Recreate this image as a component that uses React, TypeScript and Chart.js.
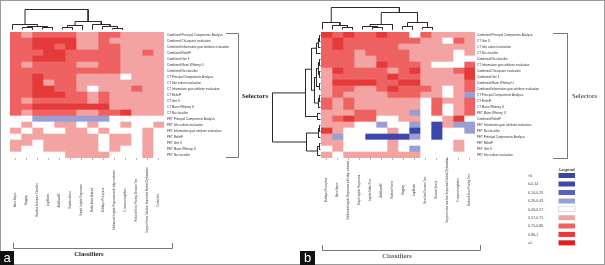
import React, { useEffect, useRef } from 'react';
import { Chart, registerables } from 'chart.js';

Chart.register(...registerables);

// ---------------- legend ----------------
const legendLabels = ['<0', '0-0.14', '0.14-0.29', '0.29-0.43', '0.43-0.57', '0.57-0.71', '0.71-0.86', '0.86-1', '=1'];
const legendColors = ['#3a45a6', '#3d47aa', '#5a62b8', '#9a9fd3', '#ffffff', '#f4a3a3', '#ee6262', '#e53a3a', '#e21f1f'];
const binUpper = [0, 0.14, 0.29, 0.43, 0.57, 0.71, 0.86, 1];

// ---------------- panel a ----------------
const aRows = [
  'Combined Principal Components Analysis',
  'Combined Chi-square evaluation',
  'Combined Information gain attribute evaluation',
  'Combined ReliefF',
  'Combined Gini II',
  'Combined Mann Whitney U',
  'Combined No classifier',
  'CT Principal Components Analysis',
  'CT Info subset evaluation',
  'CT Information gain attribute evaluation',
  'CT ReliefF',
  'CT Gini II',
  'CT Mann Whitney U',
  'CT No classifier',
  'PET Principal Components Analysis',
  'PET Info subset evaluation',
  'PET Information gain attribute evaluation',
  'PET ReliefF',
  'PET Gini II',
  'PET Mann Whitney U',
  'PET No classifier',
];

const aCols = [
  'Naive Bayes',
  'Bagging',
  'Random Subspace Classifier',
  'LogitBoost',
  'AdaBoostM1',
  'Random forest',
  'Simple Logistic Regression',
  'Radial Basis Network',
  'Multilayer Perceptron',
  'Multinomial Logistic Regression with ridge estimator',
  'K-nearest neighbors',
  'Reduced Error Pruning Decision Tree',
  'Support Vector Machine Sequential Minimal Optimization',
  'Credal tree',
];

const aValues = [
  [0.78, 0.65, 0.78, 0.78, 0.78, 0.78, 0.65, 0.65, 0.78, 0.78, 0.65, 0.65, 0.65, 0.65],
  [0.78, 0.78, 0.92, 0.92, 0.92, 0.92, 0.65, 0.65, 0.78, 0.65, 0.65, 0.65, 0.65, 0.65],
  [0.78, 0.78, 0.92, 0.92, 0.78, 0.92, 0.65, 0.65, 0.78, 0.78, 0.65, 0.65, 0.65, 0.65],
  [0.78, 0.78, 0.78, 0.92, 0.92, 0.78, 0.78, 0.78, 0.78, 0.78, 0.65, 0.65, 0.78, 0.65],
  [0.78, 0.78, 0.92, 0.92, 0.92, 0.78, 0.78, 0.78, 0.78, 0.78, 0.65, 0.65, 0.65, 0.65],
  [0.78, 0.65, 0.78, 0.78, 0.78, 0.78, 0.65, 0.65, 0.78, 0.78, 0.65, 0.65, 0.65, 0.65],
  [0.78, 0.78, 0.78, 0.78, 0.78, 0.78, 0.78, 0.78, 0.78, 0.78, 0.65, 0.65, 0.65, 0.65],
  [0.78, 0.78, 0.92, 0.78, 0.78, 0.78, 0.65, 0.65, 0.65, 0.65, 0.5, 0.65, 0.65, 0.65],
  [0.78, 0.78, 0.92, 0.65, 0.78, 0.78, 0.65, 0.65, 0.65, 0.65, 0.65, 0.65, 0.65, 0.65],
  [0.78, 0.78, 0.92, 0.92, 0.78, 0.78, 0.65, 0.5, 0.65, 0.65, 0.65, 0.78, 0.65, 0.65],
  [0.78, 0.78, 0.92, 0.92, 0.92, 0.78, 0.78, 0.65, 0.78, 0.65, 0.65, 0.65, 0.65, 0.65],
  [0.78, 0.65, 0.78, 0.78, 0.78, 0.78, 0.78, 0.65, 0.78, 0.65, 0.65, 0.65, 0.65, 0.65],
  [0.78, 0.78, 0.92, 0.92, 0.92, 0.92, 0.92, 0.92, 0.92, 0.65, 0.65, 0.65, 0.65, 0.65],
  [0.78, 0.65, 0.78, 0.78, 0.78, 0.78, 0.65, 0.65, 0.78, 0.78, 0.92, 0.65, 0.65, 0.65],
  [0.5, 0.5, 0.36, 0.36, 0.36, 0.36, 0.36, 0.36, 0.36, 0.5, 0.5, 0.5, 0.5, 0.5],
  [0.5, 0.65, 0.5, 0.5, 0.65, 0.65, 0.5, 0.65, 0.5, 0.5, 0.65, 0.5, 0.5, 0.65],
  [0.65, 0.5, 0.65, 0.5, 0.5, 0.65, 0.65, 0.5, 0.65, 0.5, 0.5, 0.5, 0.65, 0.5],
  [0.5, 0.65, 0.65, 0.65, 0.65, 0.65, 0.65, 0.65, 0.5, 0.65, 0.65, 0.5, 0.65, 0.5],
  [0.65, 0.65, 0.5, 0.65, 0.65, 0.65, 0.65, 0.65, 0.5, 0.65, 0.65, 0.5, 0.65, 0.5],
  [0.65, 0.5, 0.5, 0.65, 0.65, 0.65, 0.65, 0.65, 0.5, 0.65, 0.5, 0.5, 0.65, 0.5],
  [0.5, 0.5, 0.5, 0.5, 0.5, 0.65, 0.65, 0.65, 0.65, 0.5, 0.5, 0.5, 0.65, 0.5],
];

// column dendrogram of panel a: [left id, right id, merge height]; ids >= 12 are earlier merges
const aColLinks: [number, number, number][] = [
  [1, 2, 2], [3, 4, 2], [12, 13, 3], [0, 14, 5],
  [5, 6, 2], [16, 7, 4],
  [10, 11, 1], [9, 18, 3], [8, 19, 5],
  [17, 20, 8], [15, 21, 20],
];

// ---------------- panel b ----------------
const bRows = [
  'Combined Principal Components Analysis',
  'CT Gini II',
  'CT Info subset evaluation',
  'CT No classifier',
  'Combined No classifier',
  'CT Information gain attribute evaluation',
  'Combined Chi-square evaluation',
  'Combined Gini II',
  'Combined Mann Whitney U',
  'Combined Information gain attribute evaluation',
  'CT Principal Components Analysis',
  'CT ReliefF',
  'CT Mann Whitney U',
  'PET Mann Whitney U',
  'Combined ReliefF',
  'PET Information gain attribute evaluation',
  'PET No classifier',
  'PET Principal Components Analysis',
  'PET ReliefF',
  'PET Gini II',
  'PET Info subset evaluation',
];

const bCols = [
  'Multilayer Perceptron',
  'Naive Bayes',
  'Multinomial logistic Regression with ridge estimator',
  'Simple logistic Regression',
  'Logistic Model Tree',
  'AdaBoostM1',
  'Random Forest',
  'Bagging',
  'LogitBoost',
  'Best-first Decision Tree',
  'Decision Stump',
  'Support vector machine Sequential Minimal Optimization',
  'K-nearest neighbors',
  'Reduced Error Pruning Tree',
];

const bValues = [
  [0.92, 0.78, 0.92, 0.78, 0.78, 0.92, 0.78, 0.78, 0.5, 0.78, 0.65, 0.65, 0.65, 0.65],
  [0.78, 0.92, 0.78, 0.78, 0.78, 0.78, 0.78, 0.78, 0.78, 0.65, 0.65, 0.5, 0.78, 0.65],
  [0.78, 0.92, 0.78, 0.78, 0.78, 0.78, 0.78, 0.65, 0.65, 0.65, 0.65, 0.65, 0.65, 0.65],
  [0.78, 0.78, 0.78, 0.65, 0.78, 0.78, 0.78, 0.78, 0.65, 0.65, 0.65, 0.65, 0.5, 0.65],
  [0.78, 0.78, 0.78, 0.65, 0.65, 0.78, 0.78, 0.78, 0.65, 0.65, 0.65, 0.65, 0.5, 0.5],
  [0.78, 0.78, 0.78, 0.65, 0.65, 0.92, 0.78, 0.78, 0.78, 0.65, 0.5, 0.5, 0.5, 0.78],
  [0.65, 0.92, 0.78, 0.78, 0.78, 0.78, 0.65, 0.78, 0.92, 0.65, 0.65, 0.65, 0.78, 0.92],
  [0.65, 0.78, 0.78, 0.78, 0.78, 0.78, 0.92, 0.78, 0.78, 0.65, 0.65, 0.65, 0.65, 0.92],
  [0.65, 0.92, 0.92, 0.92, 0.92, 0.78, 0.78, 0.92, 0.92, 0.65, 0.65, 0.65, 0.65, 0.78],
  [0.65, 0.78, 0.78, 0.65, 0.65, 0.78, 0.92, 0.78, 0.78, 0.78, 0.65, 0.5, 0.65, 0.78],
  [0.65, 0.78, 0.65, 0.65, 0.65, 0.65, 0.78, 0.78, 0.78, 0.65, 0.65, 0.5, 0.65, 0.36],
  [0.78, 0.65, 0.78, 0.65, 0.65, 0.65, 0.65, 0.65, 0.65, 0.5, 0.78, 0.65, 0.65, 0.78],
  [0.78, 0.65, 0.78, 0.65, 0.65, 0.65, 0.65, 0.65, 0.65, 0.5, 0.78, 0.5, 0.65, 0.78],
  [0.65, 0.65, 0.65, 0.78, 0.78, 0.65, 0.65, 0.65, 0.36, 0.5, 0.78, 0.5, 0.65, 0.78],
  [0.65, 0.78, 0.92, 0.78, 0.78, 0.5, 0.5, 0.65, 0.65, 0.5, 0.5, 0.65, 0.92, 0.5],
  [0.65, 0.65, 0.65, 0.5, 0.5, 0.36, 0.5, 0.5, 0.36, 0.5, 0.1, 0.65, 0.36, 0.36],
  [0.92, 0.65, 0.5, 0.5, 0.5, 0.5, 0.65, 0.5, 0.1, 0.5, 0.1, 0.5, 0.5, 0.36],
  [0.65, 0.36, 0.5, 0.5, 0.1, 0.1, 0.1, 0.1, 0.36, 0.5, 0.1, 0.5, 0.5, 0.5],
  [0.65, 0.65, 0.5, 0.5, 0.5, 0.5, 0.65, 0.5, 0.5, 0.5, 0.5, 0.5, 0.65, 0.5],
  [0.5, 0.65, 0.5, 0.5, 0.5, 0.5, 0.65, 0.5, 0.36, 0.5, 0.5, 0.5, 0.65, 0.5],
  [0.65, 0.5, 0.65, 0.65, 0.65, 0.65, 0.65, 0.65, 0.65, 0.5, 0.5, 0.5, 0.5, 0.5],
];

const bColLinks: [number, number, number][] = [
  [2, 3, 2], [1, 12, 4], [0, 13, 7],
  [5, 6, 2], [4, 15, 3], [16, 7, 5],
  [8, 9, 3], [10, 11, 2], [18, 19, 7],
  [17, 20, 17], [14, 21, 22],
];

const bRowLinks: [number, number, number][] = [
  [0, 1, 1], [21, 2, 2], [22, 3, 4],
  [4, 5, 1], [6, 7, 1], [24, 25, 2], [8, 9, 1], [26, 27, 4],
  [10, 11, 1], [29, 12, 2], [28, 30, 6],
  [23, 31, 9], [13, 14, 3], [32, 33, 15],
  [15, 16, 1], [35, 17, 2], [18, 19, 1], [37, 20, 3], [36, 38, 14],
  [34, 39, 48],
];

// ---------------- helpers ----------------
function colorFor(v: number): string {
  if (v < 0) return legendColors[0];
  if (v >= 1) return legendColors[8];
  for (let i = 1; i < binUpper.length; i++) {
    if (v < binUpper[i]) return legendColors[i];
  }
  return legendColors[8];
}

const SANS = '"Liberation Sans", Arial, sans-serif';

function heatmapConfig(rows: string[], cols: string[], values: number[][], axisWidth: number, labelPad: number, labelOffset: number) {
  const datasets = cols.map((c, j) => ({
    label: c,
    data: rows.map(() => 1),
    backgroundColor: rows.map((_, i) => colorFor(values[i][j])),
    borderWidth: 0,
    barPercentage: 1,
    categoryPercentage: 1,
  }));
  const colLabels = {
    id: 'colLabels',
    afterDraw(chart: any) {
      const ctx = chart.ctx;
      const xs = chart.scales.x;
      const cy = chart.chartArea.bottom + labelOffset;
      ctx.save();
      ctx.font = `2.6px ${SANS}`;
      ctx.fillStyle = '#444';
      ctx.textAlign = 'center';
      ctx.textBaseline = 'middle';
      cols.forEach((l, j) => {
        const px = xs.getPixelForValue(j + 0.5);
        ctx.save();
        ctx.translate(px, cy);
        ctx.rotate(-Math.PI / 2);
        ctx.fillText(l, 0, 0);
        ctx.restore();
      });
      ctx.restore();
    },
  };
  return {
    type: 'bar',
    data: { labels: rows, datasets },
    options: {
      indexAxis: 'y',
      responsive: false,
      animation: false,
      devicePixelRatio: 1,
      layout: { padding: 0 },
      plugins: { legend: { display: false }, tooltip: { enabled: false } },
      scales: {
        x: {
          type: 'linear',
          stacked: true,
          min: 0,
          max: cols.length,
          position: 'bottom',
          grid: { drawOnChartArea: false, drawTicks: true, tickLength: 2, color: '#9a9a9a', lineWidth: 0.7 },
          border: { display: false },
          ticks: { display: false },
          afterBuildTicks: (s: any) => {
            s.ticks = cols.map((_, j) => ({ value: j + 0.5 }));
          },
          afterFit: (s: any) => {
            s.height = 85;
            s.paddingLeft = 0;
            s.paddingRight = 0;
          },
        },
        y: {
          type: 'category',
          stacked: true,
          position: 'right',
          offset: true,
          grid: { display: false, drawTicks: false },
          border: { display: false },
          ticks: { autoSkip: false, padding: labelPad, color: '#333', font: { size: 3, family: SANS } },
          afterFit: (s: any) => {
            s.width = axisWidth;
            s.paddingTop = 0;
            s.paddingBottom = 0;
          },
        },
      },
    },
    plugins: [colLabels],
  };
}

function dendroConfig(links: [number, number, number][], nLeaves: number, horizontalLeaves: boolean, xs: any, ys: any) {
  const pos: number[] = [];
  const hgt: number[] = [];
  for (let i = 0; i < nLeaves; i++) {
    pos[i] = i;
    hgt[i] = 0;
  }
  const datasets = links.map(([a, b, h], k) => {
    const pa = pos[a], pb = pos[b], ha = hgt[a], hb = hgt[b];
    pos[nLeaves + k] = (pa + pb) / 2;
    hgt[nLeaves + k] = h;
    const pts: [number, number][] = [[pa, ha], [pa, h], [pb, h], [pb, hb]];
    return {
      data: pts.map(([p, v]) => (horizontalLeaves ? { x: p, y: v } : { x: v, y: p })),
      showLine: true,
      borderColor: '#2a2a2a',
      borderWidth: 1,
      pointRadius: 0,
      fill: false,
    };
  });
  return {
    type: 'scatter',
    data: { datasets },
    options: {
      responsive: false,
      animation: false,
      devicePixelRatio: 1,
      layout: { padding: 0 },
      plugins: { legend: { display: false }, tooltip: { enabled: false } },
      scales: {
        x: { type: 'linear', display: false, ...xs },
        y: { type: 'linear', display: false, ...ys },
      },
    },
  };
}

function ChartBox({ left, top, width, height, make }: { left: number; top: number; width: number; height: number; make: () => any }) {
  const ref = useRef<HTMLCanvasElement>(null);
  useEffect(() => {
    if (!ref.current) return;
    const ch = new Chart(ref.current, make());
    return () => ch.destroy();
  }, []);
  return (
    <div style={{ position: 'absolute', left, top, width, height }}>
      <canvas ref={ref} width={width} height={height} style={{ width, height, display: 'block' }} />
    </div>
  );
}

const SERIF = '"Liberation Serif", "Times New Roman", serif';

function Overlay() {
  const legendY = [175.5, 184, 192.5, 201, 209.3, 217.7, 226, 234.4, 242.8];
  return (
    <svg width={605} height={265} style={{ position: 'absolute', left: 0, top: 0 }}>
      <rect x={0.5} y={0.5} width={604} height={264} fill="none" stroke="#9a9a9a" strokeWidth={1} />
      {/* panel a selectors bracket */}
      <path d="M226 33.5 H238.5 V157.5 H226" fill="none" stroke="#555" strokeWidth={0.8} />
      <text x={242} y={97.5} fontFamily={SERIF} fontSize={6.8} fontWeight="bold" fill="#222">Selectors</text>
      {/* panel a classifiers bracket */}
      <path d="M13.5 243 V248.5 H172.5 V243" fill="none" stroke="#555" strokeWidth={0.8} />
      <text x={89} y={255.5} fontFamily={SERIF} fontSize={6.6} fontWeight="bold" fill="#222" textAnchor="middle">Classifiers</text>
      {/* panel b selectors bracket */}
      <path d="M553 33.5 H567.5 V158.5 H553" fill="none" stroke="#555" strokeWidth={0.8} />
      <text x={572} y={97.5} fontFamily={SERIF} fontSize={6.8} fill="#222">Selectors</text>
      {/* panel b classifiers bracket */}
      <path d="M322.5 245 V250.5 H480.5 V245" fill="none" stroke="#555" strokeWidth={0.8} />
      <text x={397} y={258} fontFamily={SERIF} fontSize={7} fill="#222" textAnchor="middle">Classifiers</text>
      {/* legend */}
      <text x={567} y={171} fontFamily={SANS} fontSize={4.4} fontWeight="bold" fill="#333" textAnchor="middle">Legend</text>
      {legendLabels.map((l, i) => (
        <g key={l}>
          <text x={528} y={legendY[i] + 1.3} fontFamily={SANS} fontSize={3.6} fill="#444">{l}</text>
          <rect x={558.5} y={legendY[i] - 2.5} width={16.5} height={5} fill={legendColors[i]} stroke={legendColors[i] === '#ffffff' ? '#bbb' : 'none'} strokeWidth={0.5} />
        </g>
      ))}
      {/* panel tags */}
      <rect x={0} y={251} width={14} height={14} fill="#111" />
      <text x={7} y={262} fontFamily={SANS} fontSize={13} fill="#fff" textAnchor="middle">a</text>
      <rect x={300} y={251} width={15} height={14} fill="#111" />
      <text x={307.5} y={262} fontFamily={SANS} fontSize={13} fill="#fff" textAnchor="middle">b</text>
    </svg>
  );
}

export default function App() {
  return (
    <div style={{ position: 'fixed', left: 0, top: 0, width: 605, height: 265, background: '#fff', overflow: 'hidden' }}>
      <ChartBox left={10} top={32} width={226} height={211} make={() => heatmapConfig(aRows, aCols, aValues, 72, 3, 42)} />
      <ChartBox left={321} top={32} width={234} height={211} make={() => heatmapConfig(bRows, bCols, bValues, 80, 2, 32)} />
      <ChartBox
        left={8}
        top={8}
        width={120}
        height={23}
        make={() => dendroConfig(aColLinks, 12, true, { min: -0.45, max: 11.55 }, { min: -1.5, max: 21.5 })}
      />
      <ChartBox
        left={318}
        top={6}
        width={120}
        height={25}
        make={() => dendroConfig(bColLinks, 12, true, { min: -0.45, max: 11.55 }, { min: -1.5, max: 23.5 })}
      />
      <ChartBox
        left={270}
        top={32}
        width={52}
        height={126}
        make={() =>
          dendroConfig(bRowLinks, 21, false, { min: -1.5, max: 50.5, reverse: true }, { min: -0.5 - 1 / 12, max: 20.5 - 1 / 12, reverse: true })
        }
      />
      <Overlay />
    </div>
  );
}
